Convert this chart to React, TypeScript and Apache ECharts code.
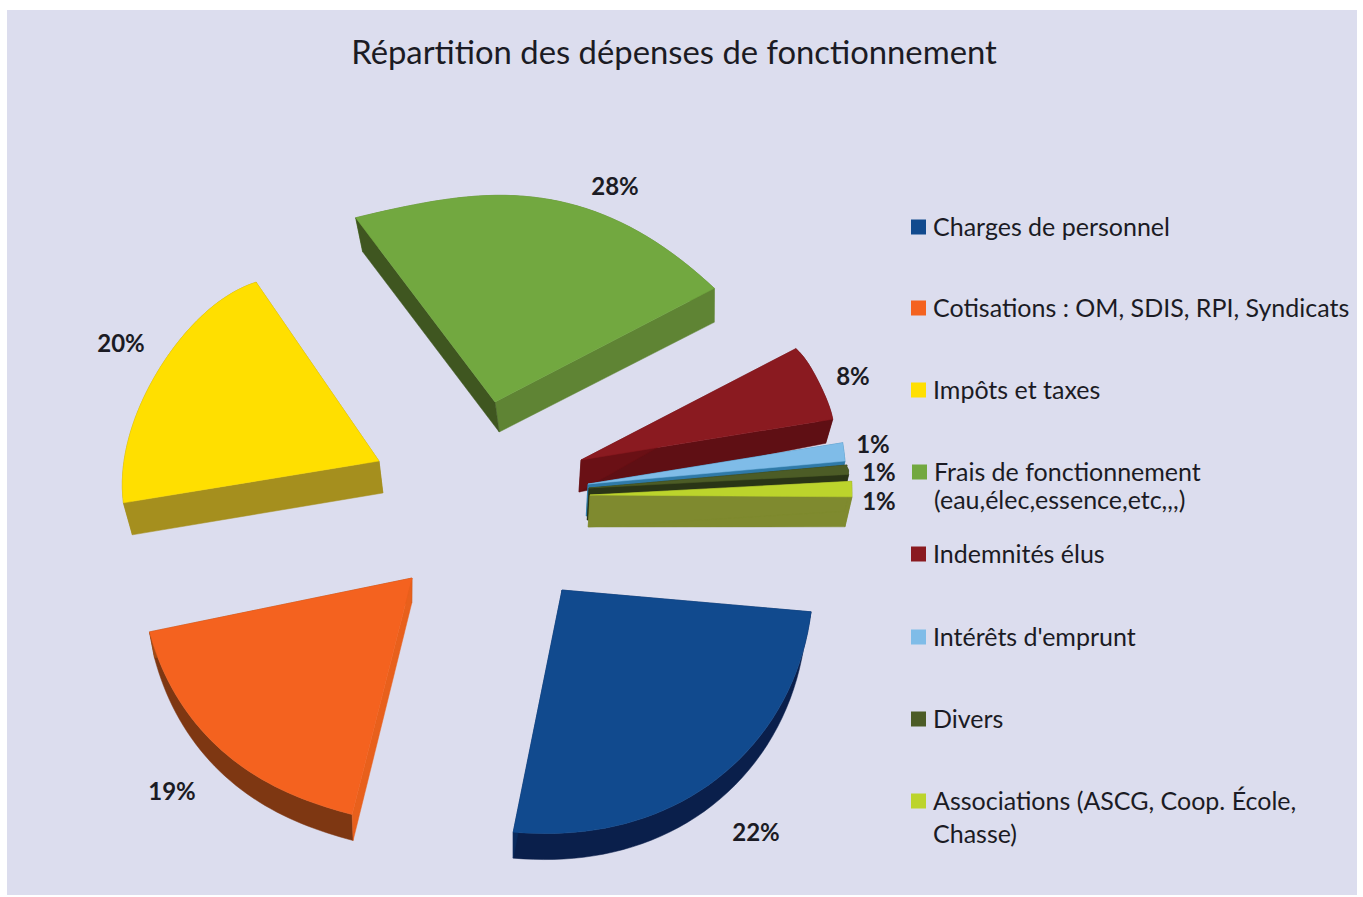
import React, { useEffect, useRef } from "react";
import * as echarts from "echarts";

const titleText = "Répartition des dépenses de fonctionnement";
const categories = [
  "Charges de personnel",
  "Cotisations : OM, SDIS, RPI, Syndicats",
  "Impôts et taxes",
  "Frais de fonctionnement\n(eau,élec,essence,etc,,,)",
  "Indemnités élus",
  "Intérêts d'emprunt",
  "Divers",
  "Associations (ASCG, Coop. École,\nChasse)",
];
const values = [22, 19, 20, 28, 8, 1, 1, 1];

const topColors = ["#114a8e", "#f4621f", "#ffdf00", "#72a840", "#8a1a20", "#7fbce8", "#4c5c26", "#bcd42c"];
const startCutColors = ["#0a2a5c", "#e8601c", "#a58f1e", "#3f5620", "#6a1015", "#2f7aa8", "#2a3516", "#7f8a2f"];
const endCutColors = ["#0a2a5c", "#a04a16", "#a58f1e", "#5f8434", "#5f0f14", "#2f7aa8", "#2a3516", "#7f8a2f"];
const arcColors = ["#0a1f4b", "#7e3712", "#a58f1e", "#5f8434", "#5f0f14", "#2f7aa8", "#2a3516", "#7f8a2f"];

// Layout of the perspective view (exploded slices)
const apexes = [[562, 590], [412, 578], [379, 461], [495, 402], [581, 460], [588, 484], [589, 488], [590, 495]];
const rims = [
  [250, 247, 244, 242, 247],
  [244, 248, 256, 263, 268],
  [259, 250, 238, 229, 217],
  [231, 208, 209, 221, 247],
  [242, 247, 250, 253, 255],
  [258, 258, 258, 258, 258],
  [259, 259, 260, 260, 260],
  [262, 262, 262, 262, 262],
];
const depthApex = [26, 25, 32, 30, 32, 32, 32, 32];
const depthRim = [26, 26, 32, 34, 24, 30, 30, 30];
const vanishX = [513, 400, 573, 706, 480, 500, 500, 500];
const paintOrder = [8, 7, 2, 1, 3, 4, 5, 6];
const warpCum = [0, 22, 41, 61, 89, 97, 98, 99, 100];
const warpDeg = [5, 102.8, 169.5, 234.2, 332.6, 350.8, 354.9, 357, 360.4];
const nudgeDeg = [[0, -1.4], [1.4, -1.1], [1.2, 1.3], [-1.3, 0], [0, 0], [0, 0], [0, 0], [0, 0]];
const labelPos = [[756, 831], [172, 790], [121, 342], [615, 185], [853, 375], [873, 443], [879, 471], [879, 500]];
const legendY = [226, 307, 389, 471, 553, 636, 718, 800];
const legendSwatchY = [227, 308, 390, 472, 554, 637, 719, 801];
const legendSwatchX = [911, 911, 911, 912, 911, 911, 911, 911];
const legendTextX = [933, 933, 933, 934, 933, 933, 933, 933];
const legendLine = [28, 28, 28, 28, 28, 28, 28, 33];

const FONT = "Lato";
const TEXT = "#1b1b24";
const EXTRUDE_SLOPE = 0.02;
const KNOTS = [0, 0.25, 0.5, 0.75, 1];

const warp = (c: number) => {
  for (let k = 1; k < warpCum.length; k++) {
    if (c <= warpCum[k]) {
      const f = (c - warpCum[k - 1]) / (warpCum[k] - warpCum[k - 1]);
      return warpDeg[k - 1] + f * (warpDeg[k] - warpDeg[k - 1]);
    }
  }
  return warpDeg[warpDeg.length - 1];
};

const smoothRadius = (r: number[], u: number) => {
  let sum = 0;
  KNOTS.forEach((ki, i) => {
    let w = 1;
    KNOTS.forEach((kj, j) => {
      if (i !== j) w *= (u - kj) / (ki - kj);
    });
    sum += w * r[i];
  });
  return sum;
};

const renderSlice = (params: any, api: any) => {
  const i = params.dataIndex;
  const value = api.value(0);
  const cumBefore = values.slice(0, i).reduce((a, b) => a + b, 0);
  const a0 = warp(cumBefore) + nudgeDeg[i][0];
  const a1 = warp(cumBefore + value) + nudgeDeg[i][1];
  const [ax, ay] = apexes[i];
  const N = 40;
  const rim: number[][] = [];
  for (let k = 0; k <= N; k++) {
    const u = k / N;
    const a = ((a0 + u * (a1 - a0)) * Math.PI) / 180;
    const r = smoothRadius(rims[i], u);
    rim.push([ax + r * Math.cos(a), ay + r * Math.sin(a)]);
  }
  const down = (p: number[], d: number) => [p[0] + EXTRUDE_SLOPE * (vanishX[i] - p[0]), p[1] + d];
  const apexTop = [ax, ay];
  const apexBot = down(apexTop, depthApex[i]);
  const rimBot = rim.map((p) => down(p, depthRim[i]));
  const base = paintOrder[i] * 10;
  const poly = (points: number[][], fill: string, z: number) => ({
    type: "polygon",
    z2: base + z,
    shape: { points },
    style: { fill, stroke: fill, lineWidth: 0.5 },
  });
  return {
    type: "group",
    children: [
      poly([...rim, ...rimBot.slice().reverse()], arcColors[i], 0),
      poly([apexTop, rim[N], rimBot[N], apexBot], endCutColors[i], 1),
      poly([apexTop, rim[0], rimBot[0], apexBot], startCutColors[i], 2),
      poly([apexTop, ...rim], topColors[i], 3),
      {
        type: "text",
        z2: 200,
        style: {
          text: `${value}%`,
          x: labelPos[i][0],
          y: labelPos[i][1],
          align: "center",
          verticalAlign: "middle",
          fontFamily: FONT,
          fontWeight: "bold",
          fontSize: 24,
          fill: TEXT,
        },
      },
    ],
  };
};

export default function App() {
  const ref = useRef<HTMLDivElement>(null);
  useEffect(() => {
    document.body.style.margin = "0";
    document.body.style.background = "#ffffff";
    const chart = echarts.init(ref.current!, null, { renderer: "svg" });
    const legendElements: any[] = [];
    categories.forEach((name, i) => {
      legendElements.push({
        type: "rect",
        shape: { x: legendSwatchX[i], y: legendSwatchY[i] - 7.5, width: 15, height: 15 },
        style: { fill: topColors[i] },
      });
      legendElements.push({
        type: "text",
        style: {
          text: name,
          x: legendTextX[i],
          y: legendY[i] - legendLine[i] / 2,
          verticalAlign: "top",
          lineHeight: legendLine[i],
          fontFamily: FONT,
          fontSize: 25,
          fill: TEXT,
        },
      });
    });
    chart.setOption({
      animation: false,
      title: {
        text: titleText,
        left: 669,
        top: 30,
        textAlign: "center",
        textStyle: { fontFamily: FONT, fontSize: 32.8, fontWeight: "normal", color: TEXT },
      },
      graphic: [
        {
          type: "rect",
          silent: true,
          z: -10,
          shape: { x: 7, y: 10, width: 1350, height: 885 },
          style: { fill: "#dcddee" },
        },
        ...legendElements,
      ],
      series: [
        {
          type: "custom",
          coordinateSystem: "none",
          silent: true,
          renderItem: renderSlice,
          data: categories.map((name, i) => ({ name, value: [values[i]] })),
        },
      ],
    });
    return () => chart.dispose();
  }, []);
  return <div ref={ref} style={{ width: 1363, height: 897 }} />;
}
